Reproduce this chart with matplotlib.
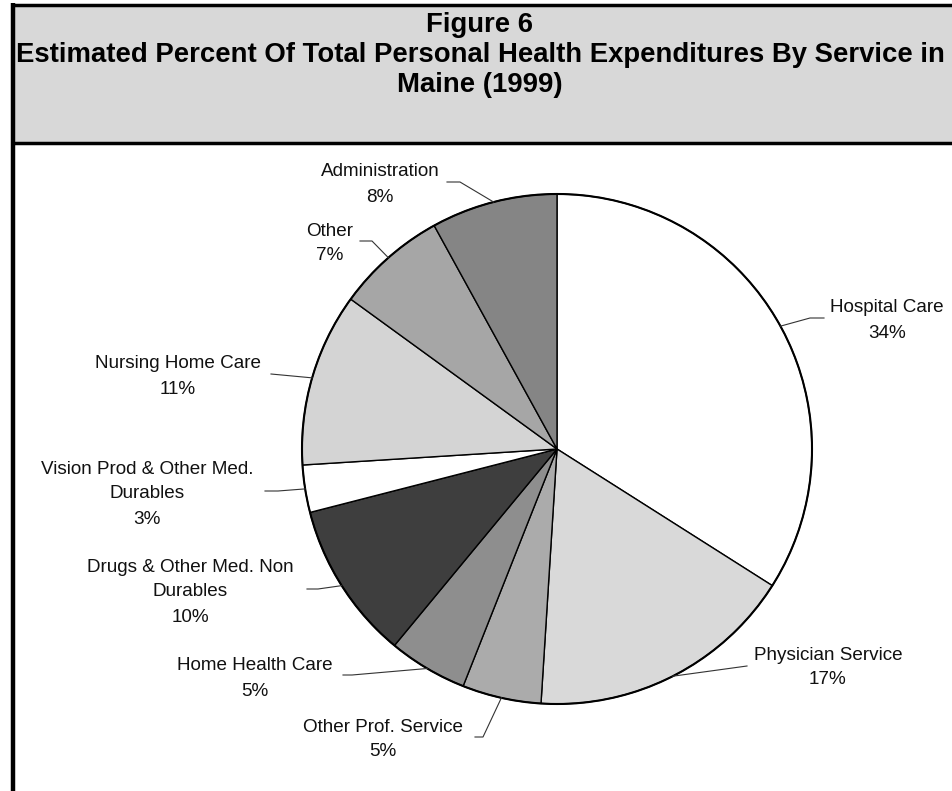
import matplotlib
matplotlib.use("Agg")
import matplotlib.pyplot as plt
from matplotlib.patches import Rectangle
import numpy as np

# ---- data ----
categories = ["Hospital Care", "Physician Service", "Other Prof. Service",
              "Home Health Care", "Drugs & Other Med. Non\nDurables",
              "Vision Prod & Other Med.\nDurables", "Nursing Home Care",
              "Other", "Administration"]
percent = [34, 17, 5, 5, 10, 3, 11, 7, 8]
colors = ["#ffffff", "#d9d9d9", "#ababab", "#8e8e8e", "#3e3e3e",
          "#ffffff", "#d4d4d4", "#a6a6a6", "#858585"]
title_lines = ["Figure 6",
               "Estimated Percent Of Total Personal Health Expenditures By Service in",
               "Maine (1999)"]

# ---- layout (pixel coordinates, y downwards) ----
W, H = 953, 791
center = (557, 449)
radius = 255
label_pos = [(887, 306), (828, 653), (383, 725), (255, 664), (190, 565),
             (147, 467), (178, 362), (330, 229), (380, 170)]
leader_tails = [[(810, 318), (824, 318)],
                [(747, 666)],
                [(483, 737), (475, 737)],
                [(352, 675), (343, 675)],
                [(318, 589), (307, 589)],
                [(278, 491), (265, 491)],
                [(271, 374)],
                [(372, 241), (360, 241)],
                [(460, 182), (447, 182)]]
line_step = 25

fig = plt.figure(figsize=(W / 100, H / 100), dpi=100)
ax = fig.add_axes([0, 0, 1, 1])
ax.set_xlim(0, W)
ax.set_ylim(H, 0)
ax.set_aspect("equal")
ax.axis("off")

# title box
ax.add_patch(Rectangle((12, 5), W, 138, facecolor="#d8d8d8", edgecolor="none", zorder=1))
ax.plot([12, W], [5, 5], color="black", lw=2.5, zorder=2, solid_capstyle="butt")
ax.plot([12, W], [143, 143], color="black", lw=2.5, zorder=2, solid_capstyle="butt")
ax.plot([13, 13], [3, H], color="black", lw=3.2, zorder=2, solid_capstyle="butt")

# fit title font
title_font = ["Liberation Sans Narrow", "Liberation Sans", "DejaVu Sans"]
t = ax.text(480, 55, title_lines[1], ha="center", va="center",
            fontsize=15, fontweight="bold", family=title_font)
fig.canvas.draw()
bb = t.get_window_extent()
fs = 15 * 930 / bb.width
t.set_fontsize(fs)
for i, line in enumerate(title_lines):
    if i == 1:
        continue
    ax.text(480, 25 + 30 * i, line, ha="center", va="center",
            fontsize=fs, fontweight="bold", family=title_font)
t.set_y(55)

# pie (y axis inverted -> counterclock draws visually clockwise)
wedges, _ = ax.pie(percent, colors=colors, startangle=-90, counterclock=True,
                   center=center, radius=radius, frame=True,
                   wedgeprops=dict(edgecolor="black", linewidth=1.0))
ax.set_xlim(0, W)
ax.set_ylim(H, 0)
ax.axis("off")
ax.add_patch(plt.Circle(center, radius, fill=False, edgecolor="black", lw=1.5, zorder=5))

label_font = ["Liberation Sans", "DejaVu Sans"]
for w, name, pct, (tx, ty), tail in zip(wedges, categories, percent, label_pos, leader_tails):
    mid = np.deg2rad((w.theta1 + w.theta2) / 2)
    ex = center[0] + radius * np.cos(mid)
    ey = center[1] + radius * np.sin(mid)
    xs = [ex] + [p[0] for p in tail]
    ys = [ey] + [p[1] for p in tail]
    ax.plot(xs, ys, color="#333333", lw=0.8, zorder=6)
    lines = name.split("\n") + [f"{pct}%"]
    for i, ln in enumerate(lines):
        ax.text(tx, ty + i * line_step, ln, ha="center", va="center_baseline",
                fontsize=13.6, family=label_font, color="#111111")

fig.savefig("out.png", dpi=100)
